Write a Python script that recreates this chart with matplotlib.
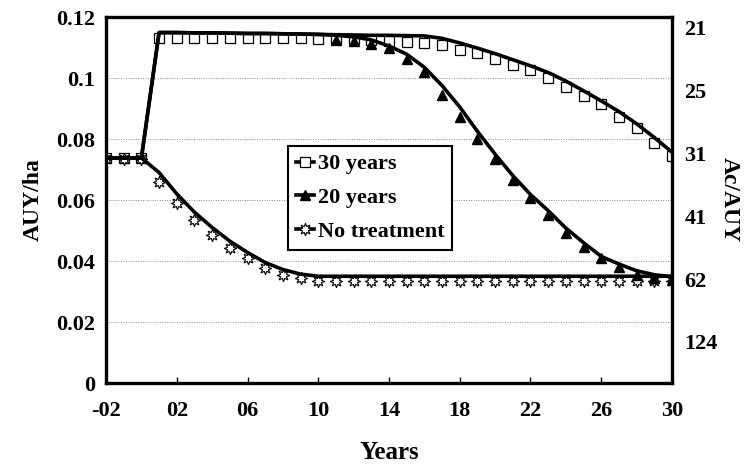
import matplotlib
matplotlib.use('Agg')
import matplotlib.pyplot as plt
from matplotlib.lines import Line2D

plt.rcParams['font.family'] = ['Liberation Serif', 'DejaVu Serif']
plt.rcParams['font.weight'] = 'bold'

years = list(range(-2, 31))

# model lines (one value per year, -2 .. 30)
line_30 = [0.0738, 0.0738, 0.0738,
           0.1149, 0.1149, 0.1148, 0.1148, 0.1147, 0.1146, 0.1146, 0.1145,
           0.1144, 0.1143, 0.1142, 0.1141, 0.1140, 0.1140, 0.1139,
           0.1138, 0.1130, 0.1115, 0.1098, 0.1080, 0.1060, 0.1040, 0.1018,
           0.0990, 0.0958, 0.0925, 0.0890, 0.0850, 0.0805, 0.0757]
line_20 = [0.0738, 0.0738, 0.0738,
           0.1149, 0.1149, 0.1148, 0.1148, 0.1147, 0.1146, 0.1146, 0.1145,
           0.1144, 0.1143, 0.1140, 0.1135, 0.1125, 0.1105, 0.1078,
           0.1035, 0.0975, 0.0905, 0.0825, 0.0750, 0.0680, 0.0618, 0.0565,
           0.0508, 0.0460, 0.0415, 0.0390, 0.0368, 0.0355, 0.0348]
line_none = [0.0738, 0.0738, 0.0738,
             0.0690, 0.0620, 0.0560, 0.0510, 0.0465, 0.0428, 0.0395, 0.0372,
             0.0357, 0.0350, 0.0350, 0.0350, 0.0350, 0.0350, 0.0350,
             0.0350, 0.0350, 0.0350, 0.0350, 0.0350, 0.0350, 0.0350, 0.0350,
             0.0350, 0.0350, 0.0350, 0.0350, 0.0350, 0.0350, 0.0350]

# observed points
pts_30 = [0.0738, 0.0738, 0.0738,
          0.1130, 0.1130, 0.1130, 0.1130, 0.1130, 0.1130, 0.1130, 0.1130,
          0.1130, 0.1129, 0.1128, 0.1127, 0.1125, 0.1122, 0.1119,
          0.1115, 0.1108, 0.1092, 0.1082, 0.1062, 0.1043, 0.1026, 0.1001,
          0.0971, 0.0942, 0.0915, 0.0872, 0.0836, 0.0787, 0.0743]
years_20 = list(range(11, 31))
pts_20 = [0.1125, 0.1120, 0.1112, 0.1098, 0.1063, 0.1020, 0.0944, 0.0872,
          0.0800, 0.0735, 0.0666, 0.0605, 0.0551, 0.0493, 0.0446, 0.0410,
          0.0380, 0.0354, 0.0344, 0.0338]
pts_none = [0.0734, 0.0734, 0.0734,
            0.0659, 0.0590, 0.0534, 0.0485, 0.0443, 0.0410, 0.0377, 0.0354,
            0.0344, 0.0336, 0.0335, 0.0335, 0.0335, 0.0335, 0.0335,
            0.0335, 0.0335, 0.0335, 0.0335, 0.0335, 0.0335, 0.0335, 0.0335,
            0.0335, 0.0335, 0.0335, 0.0335, 0.0335, 0.0335, 0.0335]

x_ticks = list(range(-2, 31, 4))
x_labels = ['-02', '02', '06', '10', '14', '18', '22', '26', '30']
y_ticks = [0, 0.02, 0.04, 0.06, 0.08, 0.1, 0.12]
y_labels = ['0', '0.02', '0.04', '0.06', '0.08', '0.1', '0.12']
r_ticks = [0.02, 0.04, 0.06, 0.08, 0.10, 0.12]
r_labels = ['124', '62', '41', '31', '25', '21']

sun = (8, 1, 0)  # eight-point star, close to the sun-like marker

fig = plt.figure(figsize=(7.53, 4.66), dpi=100)
ax = fig.add_axes([0.1408, 0.1781, 0.7516, 0.7854])

for yv in y_ticks[1:]:
    ax.axhline(yv, color='#888888', lw=0.7, ls=(0, (1, 1.5)), zorder=0)

ax.plot(years, pts_30, ls='none', marker='s', ms=7, mfc='white', mec='black', mew=0.9, zorder=2)
ax.plot(years, pts_none, ls='none', marker=sun, ms=9, mfc='white', mec='black', mew=0.8, zorder=2)
ax.plot(years_20, pts_20, ls='none', marker='^', ms=7, color='black', zorder=2)

ax.plot(years, line_30, color='black', lw=2.6, zorder=3)
ax.plot(years, line_20, color='black', lw=2.6, zorder=3)
ax.plot(years, line_none, color='black', lw=2.6, zorder=3)

ax.set_xlim(-2, 30)
ax.set_ylim(0, 0.12)
ax.set_xticks(x_ticks)
ax.set_xticklabels(x_labels)
ax.set_yticks(y_ticks)
ax.set_yticklabels(y_labels)
ax.tick_params(axis='x', direction='in', length=4, width=1, pad=13, labelsize=16)
ax.tick_params(axis='y', length=0, pad=8, labelsize=16)
for s in ax.spines.values():
    s.set_linewidth(2.4)

ax2 = ax.twinx()
ax2.set_position(ax.get_position())
ax2.set_ylim(0.0069, 0.1235)
ax2.set_yticks(r_ticks)
ax2.set_yticklabels(r_labels)
ax2.tick_params(axis='y', length=0, pad=9, labelsize=16)
for s in ax2.spines.values():
    s.set_visible(False)

ax.set_xlabel('Years', fontsize=18, fontweight='bold', labelpad=14)
ax.set_ylabel('AUY/ha', fontsize=17, fontweight='bold', labelpad=9)
ax2.set_ylabel('Ac/AUY', fontsize=17, fontweight='bold', rotation=-90, labelpad=16)

handles = [
    Line2D([], [], color='black', lw=2.6, marker='s', ms=7, mfc='white', mec='black', mew=0.9),
    Line2D([], [], color='black', lw=2.6, marker='^', ms=7, mfc='black', mec='black'),
    Line2D([], [], color='black', lw=2.6, marker=sun, ms=9, mfc='white', mec='black', mew=0.8),
]
leg = ax.legend(handles, ['30 years', '20 years', 'No treatment'],
                loc='upper left', bbox_to_anchor=(0.3216, 0.6475), borderaxespad=0,
                handlelength=0.8, handletextpad=0.2, labelspacing=0.6,
                borderpad=0.35, fancybox=False, framealpha=1, edgecolor='black',
                prop={'size': 16, 'weight': 'bold'})
leg.get_frame().set_linewidth(1.5)

fig.savefig('out.png', dpi=100)
